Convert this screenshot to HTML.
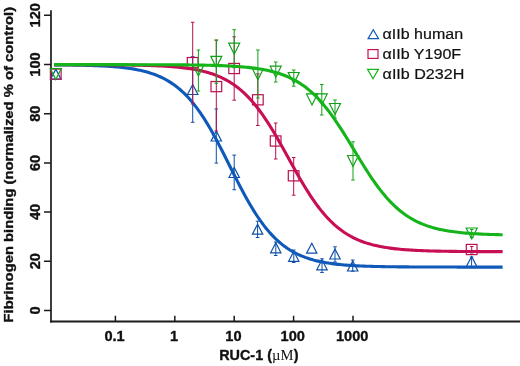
<!DOCTYPE html>
<html><head><meta charset="utf-8"><title>Figure</title>
<style>
html,body{margin:0;padding:0;background:#fff;}
svg{display:block;}
text{font-family:"Liberation Sans",Arial,Helvetica,sans-serif;fill:#111;}
.b{font-weight:bold;font-size:14.6px;stroke:#111;stroke-width:0.35px;stroke-linejoin:round;}
.s{font-family:"Liberation Serif","Times New Roman",serif;font-weight:normal;font-size:14.6px;letter-spacing:0.2px;stroke:none;}
.l{font-size:14px;stroke:#111;stroke-width:0.2px;}
</style></head><body>
<svg width="520" height="366" viewBox="0 0 520 366">
<rect width="520" height="366" fill="#fff"/>
<path d="M51,10.3V322.4" stroke="#1a1a1a" stroke-width="1.7" fill="none"/>
<path d="M50.15,321.4H520" stroke="#1a1a1a" stroke-width="2" fill="none"/>
<path d="M44,310.4H51M44,261.2H51M44,212.0H51M44,162.9H51M44,113.7H51M44,64.5H51M44,15.3H51M115.4,315.8V321.4M174.8,315.8V321.4M234.2,315.8V321.4M293.6,315.8V321.4M353.0,315.8V321.4" stroke="#1a1a1a" stroke-width="1.5" fill="none"/>
<path d="M55.8,69.1L61.0,79.1H50.6Z" stroke="#0e4fa8" stroke-width="1.2" fill="none" stroke-linejoin="miter"/>
<path d="M192.7,56.7V122.3M190.9,56.7h3.6M190.9,122.3h3.6" stroke="#0e4fa8" stroke-width="1" fill="none"/>
<path d="M192.7,84.5L197.9,94.5H187.5Z" stroke="#0e4fa8" stroke-width="1.2" fill="none" stroke-linejoin="miter"/>
<path d="M216.3,109.0V163.1M214.5,109.0h3.6M214.5,163.1h3.6" stroke="#0e4fa8" stroke-width="1" fill="none"/>
<path d="M216.3,131.0L221.5,141.0H211.1Z" stroke="#0e4fa8" stroke-width="1.2" fill="none" stroke-linejoin="miter"/>
<path d="M234.2,155.1V189.7M232.4,155.1h3.6M232.4,189.7h3.6" stroke="#0e4fa8" stroke-width="1" fill="none"/>
<path d="M234.2,167.5L239.4,177.5H229.0Z" stroke="#0e4fa8" stroke-width="1.2" fill="none" stroke-linejoin="miter"/>
<path d="M257.6,221.2V237.5M255.8,221.2h3.6M255.8,237.5h3.6" stroke="#0e4fa8" stroke-width="1" fill="none"/>
<path d="M257.6,224.2L262.8,234.2H252.4Z" stroke="#0e4fa8" stroke-width="1.2" fill="none" stroke-linejoin="miter"/>
<path d="M275.8,242.0V255.5M273.9,242.0h3.6M273.9,255.5h3.6" stroke="#0e4fa8" stroke-width="1" fill="none"/>
<path d="M275.8,242.8L280.9,252.8H270.6Z" stroke="#0e4fa8" stroke-width="1.2" fill="none" stroke-linejoin="miter"/>
<path d="M293.8,250.0V262.5M291.9,250.0h3.6M291.9,262.5h3.6" stroke="#0e4fa8" stroke-width="1" fill="none"/>
<path d="M293.8,251.3L298.9,261.3H288.6Z" stroke="#0e4fa8" stroke-width="1.2" fill="none" stroke-linejoin="miter"/>
<path d="M311.8,243.2L316.9,253.2H306.6Z" stroke="#0e4fa8" stroke-width="1.2" fill="none" stroke-linejoin="miter"/>
<path d="M322.0,258.8V272.5M320.2,258.8h3.6M320.2,272.5h3.6" stroke="#0e4fa8" stroke-width="1" fill="none"/>
<path d="M322.0,259.8L327.2,269.8H316.8Z" stroke="#0e4fa8" stroke-width="1.2" fill="none" stroke-linejoin="miter"/>
<path d="M335.0,246.8V262.0M333.2,246.8h3.6M333.2,262.0h3.6" stroke="#0e4fa8" stroke-width="1" fill="none"/>
<path d="M335.0,249.0L340.2,259.0H329.8Z" stroke="#0e4fa8" stroke-width="1.2" fill="none" stroke-linejoin="miter"/>
<path d="M352.7,260.0V271.2M350.9,260.0h3.6M350.9,271.2h3.6" stroke="#0e4fa8" stroke-width="1" fill="none"/>
<path d="M352.7,261.0L357.9,271.0H347.5Z" stroke="#0e4fa8" stroke-width="1.2" fill="none" stroke-linejoin="miter"/>
<path d="M471.6,257.0V266.5M469.8,257.0h3.6M469.8,266.5h3.6" stroke="#0e4fa8" stroke-width="1" fill="none"/>
<path d="M471.6,256.5L476.8,266.5H466.4Z" stroke="#0e4fa8" stroke-width="1.2" fill="none" stroke-linejoin="miter"/>
<path d="M54.0,64.84 L56.0,64.86 L58.0,64.88 L60.0,64.90 L62.0,64.92 L64.0,64.94 L66.0,64.96 L68.0,64.99 L70.0,65.02 L72.0,65.05 L74.0,65.08 L76.0,65.11 L78.0,65.15 L80.0,65.19 L82.0,65.24 L84.0,65.29 L86.0,65.34 L88.0,65.39 L90.0,65.45 L92.0,65.52 L94.0,65.59 L96.0,65.67 L98.0,65.75 L100.0,65.84 L102.0,65.94 L104.0,66.05 L106.0,66.16 L108.0,66.28 L110.0,66.42 L112.0,66.56 L114.0,66.72 L116.0,66.88 L118.0,67.07 L120.0,67.26 L122.0,67.47 L124.0,67.70 L126.0,67.95 L128.0,68.22 L130.0,68.50 L132.0,68.81 L134.0,69.15 L136.0,69.51 L138.0,69.90 L140.0,70.32 L142.0,70.77 L144.0,71.26 L146.0,71.79 L148.0,72.35 L150.0,72.96 L152.0,73.61 L154.0,74.31 L156.0,75.07 L158.0,75.88 L160.0,76.75 L162.0,77.68 L164.0,78.68 L166.0,79.74 L168.0,80.89 L170.0,82.11 L172.0,83.41 L174.0,84.80 L176.0,86.28 L178.0,87.86 L180.0,89.53 L182.0,91.31 L184.0,93.20 L186.0,95.19 L188.0,97.30 L190.0,99.52 L192.0,101.87 L194.0,104.33 L196.0,106.91 L198.0,109.62 L200.0,112.44 L202.0,115.39 L204.0,118.46 L206.0,121.64 L208.0,124.93 L210.0,128.33 L212.0,131.83 L214.0,135.43 L216.0,139.11 L218.0,142.87 L220.0,146.70 L222.0,150.58 L224.0,154.52 L226.0,158.48 L228.0,162.47 L230.0,166.48 L232.0,170.47 L234.0,174.46 L236.0,178.42 L238.0,182.34 L240.0,186.21 L242.0,190.02 L244.0,193.75 L246.0,197.41 L248.0,200.98 L250.0,204.45 L252.0,207.82 L254.0,211.08 L256.0,214.23 L258.0,217.26 L260.0,220.17 L262.0,222.96 L264.0,225.63 L266.0,228.17 L268.0,230.60 L270.0,232.91 L272.0,235.09 L274.0,237.17 L276.0,239.13 L278.0,240.98 L280.0,242.73 L282.0,244.37 L284.0,245.92 L286.0,247.37 L288.0,248.74 L290.0,250.02 L292.0,251.21 L294.0,252.33 L296.0,253.38 L298.0,254.36 L300.0,255.27 L302.0,256.12 L304.0,256.91 L306.0,257.65 L308.0,258.34 L310.0,258.98 L312.0,259.57 L314.0,260.13 L316.0,260.64 L318.0,261.12 L320.0,261.56 L322.0,261.97 L324.0,262.35 L326.0,262.70 L328.0,263.03 L330.0,263.33 L332.0,263.62 L334.0,263.88 L336.0,264.12 L338.0,264.34 L340.0,264.55 L342.0,264.74 L344.0,264.92 L346.0,265.08 L348.0,265.23 L350.0,265.37 L352.0,265.50 L354.0,265.63 L356.0,265.74 L358.0,265.84 L360.0,265.93 L362.0,266.02 L364.0,266.10 L366.0,266.18 L368.0,266.25 L370.0,266.31 L372.0,266.37 L374.0,266.43 L376.0,266.48 L378.0,266.53 L380.0,266.57 L382.0,266.61 L384.0,266.65 L386.0,266.68 L388.0,266.71 L390.0,266.74 L392.0,266.77 L394.0,266.79 L396.0,266.82 L398.0,266.84 L400.0,266.86 L402.0,266.88 L404.0,266.89 L406.0,266.91 L408.0,266.92 L410.0,266.94 L412.0,266.95 L414.0,266.96 L416.0,266.97 L418.0,266.98 L420.0,266.99 L422.0,267.00 L424.0,267.01 L426.0,267.01 L428.0,267.02 L430.0,267.03 L432.0,267.03 L434.0,267.04 L436.0,267.04 L438.0,267.05 L440.0,267.05 L442.0,267.05 L444.0,267.06 L446.0,267.06 L448.0,267.06 L450.0,267.07 L452.0,267.07 L454.0,267.07 L456.0,267.07 L458.0,267.08 L460.0,267.08 L462.0,267.08 L464.0,267.08 L466.0,267.08 L468.0,267.08 L470.0,267.08 L472.0,267.09 L474.0,267.09 L476.0,267.09 L478.0,267.09 L480.0,267.09 L482.0,267.09 L484.0,267.09 L486.0,267.09 L488.0,267.09 L490.0,267.09 L492.0,267.09 L494.0,267.09 L496.0,267.09 L498.0,267.09 L500.0,267.10 L502.0,267.10 L502.6,267.10" stroke="#0f5ab9" stroke-width="3.1" fill="none" stroke-linecap="butt" stroke-linejoin="round"/>
<rect x="50.4" y="69.0" width="10.7" height="10.2" stroke="#b80f50" stroke-width="1.2" fill="none"/>
<path d="M192.7,22.3V104.0M190.9,22.3h3.6M190.9,104.0h3.6" stroke="#b80f50" stroke-width="1" fill="none"/>
<rect x="187.3" y="57.5" width="10.7" height="10.2" stroke="#b80f50" stroke-width="1.2" fill="none"/>
<path d="M216.3,40.2V131.0M214.5,40.2h3.6M214.5,131.0h3.6" stroke="#b80f50" stroke-width="1" fill="none"/>
<rect x="211.0" y="81.5" width="10.7" height="10.2" stroke="#b80f50" stroke-width="1.2" fill="none"/>
<path d="M234.2,36.8V100.2M232.4,36.8h3.6M232.4,100.2h3.6" stroke="#b80f50" stroke-width="1" fill="none"/>
<rect x="228.8" y="63.4" width="10.7" height="10.2" stroke="#b80f50" stroke-width="1.2" fill="none"/>
<path d="M257.8,73.9V125.5M256.0,73.9h3.6M256.0,125.5h3.6" stroke="#b80f50" stroke-width="1" fill="none"/>
<rect x="252.5" y="94.7" width="10.7" height="10.2" stroke="#b80f50" stroke-width="1.2" fill="none"/>
<path d="M275.7,123.0V159.0M273.9,123.0h3.6M273.9,159.0h3.6" stroke="#b80f50" stroke-width="1" fill="none"/>
<rect x="270.3" y="135.9" width="10.7" height="10.2" stroke="#b80f50" stroke-width="1.2" fill="none"/>
<path d="M293.7,157.5V195.2M291.9,157.5h3.6M291.9,195.2h3.6" stroke="#b80f50" stroke-width="1" fill="none"/>
<rect x="288.3" y="170.7" width="10.7" height="10.2" stroke="#b80f50" stroke-width="1.2" fill="none"/>
<path d="M471.7,246.5V253.0M469.9,246.5h3.6M469.9,253.0h3.6" stroke="#b80f50" stroke-width="1" fill="none"/>
<rect x="466.3" y="244.4" width="10.7" height="10.2" stroke="#b80f50" stroke-width="1.2" fill="none"/>
<path d="M54.0,64.67 L56.0,64.67 L58.0,64.67 L60.0,64.68 L62.0,64.68 L64.0,64.68 L66.0,64.68 L68.0,64.69 L70.0,64.69 L72.0,64.69 L74.0,64.70 L76.0,64.70 L78.0,64.70 L80.0,64.71 L82.0,64.71 L84.0,64.72 L86.0,64.72 L88.0,64.73 L90.0,64.74 L92.0,64.74 L94.0,64.75 L96.0,64.76 L98.0,64.77 L100.0,64.78 L102.0,64.79 L104.0,64.80 L106.0,64.81 L108.0,64.82 L110.0,64.83 L112.0,64.85 L114.0,64.87 L116.0,64.88 L118.0,64.90 L120.0,64.92 L122.0,64.94 L124.0,64.97 L126.0,64.99 L128.0,65.02 L130.0,65.05 L132.0,65.08 L134.0,65.12 L136.0,65.16 L138.0,65.20 L140.0,65.24 L142.0,65.29 L144.0,65.34 L146.0,65.39 L148.0,65.45 L150.0,65.52 L152.0,65.59 L154.0,65.66 L156.0,65.74 L158.0,65.83 L160.0,65.93 L162.0,66.03 L164.0,66.14 L166.0,66.26 L168.0,66.38 L170.0,66.52 L172.0,66.67 L174.0,66.83 L176.0,67.01 L178.0,67.20 L180.0,67.40 L182.0,67.62 L184.0,67.85 L186.0,68.10 L188.0,68.38 L190.0,68.67 L192.0,68.99 L194.0,69.33 L196.0,69.69 L198.0,70.09 L200.0,70.51 L202.0,70.97 L204.0,71.46 L206.0,71.99 L208.0,72.56 L210.0,73.16 L212.0,73.82 L214.0,74.52 L216.0,75.27 L218.0,76.07 L220.0,76.93 L222.0,77.85 L224.0,78.84 L226.0,79.89 L228.0,81.01 L230.0,82.20 L232.0,83.47 L234.0,84.83 L236.0,86.27 L238.0,87.79 L240.0,89.41 L242.0,91.13 L244.0,92.94 L246.0,94.85 L248.0,96.86 L250.0,98.98 L252.0,101.21 L254.0,103.55 L256.0,105.99 L258.0,108.54 L260.0,111.20 L262.0,113.96 L264.0,116.83 L266.0,119.79 L268.0,122.85 L270.0,126.01 L272.0,129.24 L274.0,132.56 L276.0,135.95 L278.0,139.40 L280.0,142.90 L282.0,146.45 L284.0,150.04 L286.0,153.65 L288.0,157.27 L290.0,160.89 L292.0,164.51 L294.0,168.11 L296.0,171.68 L298.0,175.20 L300.0,178.68 L302.0,182.10 L304.0,185.46 L306.0,188.73 L308.0,191.93 L310.0,195.04 L312.0,198.05 L314.0,200.97 L316.0,203.78 L318.0,206.50 L320.0,209.10 L322.0,211.60 L324.0,213.98 L326.0,216.27 L328.0,218.44 L330.0,220.51 L332.0,222.47 L334.0,224.33 L336.0,226.09 L338.0,227.76 L340.0,229.33 L342.0,230.81 L344.0,232.21 L346.0,233.52 L348.0,234.76 L350.0,235.91 L352.0,237.00 L354.0,238.01 L356.0,238.97 L358.0,239.86 L360.0,240.69 L362.0,241.46 L364.0,242.19 L366.0,242.86 L368.0,243.49 L370.0,244.08 L372.0,244.63 L374.0,245.14 L376.0,245.61 L378.0,246.05 L380.0,246.46 L382.0,246.84 L384.0,247.20 L386.0,247.52 L388.0,247.83 L390.0,248.11 L392.0,248.38 L394.0,248.62 L396.0,248.85 L398.0,249.06 L400.0,249.25 L402.0,249.43 L404.0,249.60 L406.0,249.75 L408.0,249.90 L410.0,250.03 L412.0,250.15 L414.0,250.27 L416.0,250.37 L418.0,250.47 L420.0,250.56 L422.0,250.65 L424.0,250.73 L426.0,250.80 L428.0,250.87 L430.0,250.93 L432.0,250.98 L434.0,251.04 L436.0,251.09 L438.0,251.13 L440.0,251.17 L442.0,251.21 L444.0,251.25 L446.0,251.28 L448.0,251.31 L450.0,251.34 L452.0,251.37 L454.0,251.39 L456.0,251.42 L458.0,251.44 L460.0,251.46 L462.0,251.48 L464.0,251.49 L466.0,251.51 L468.0,251.52 L470.0,251.54 L472.0,251.55 L474.0,251.56 L476.0,251.57 L478.0,251.58 L480.0,251.59 L482.0,251.60 L484.0,251.60 L486.0,251.61 L488.0,251.62 L490.0,251.62 L492.0,251.63 L494.0,251.64 L496.0,251.64 L498.0,251.64 L500.0,251.65 L502.0,251.65 L502.6,251.65" stroke="#c80f55" stroke-width="3.1" fill="none" stroke-linecap="butt" stroke-linejoin="round"/>
<path d="M55.8,79.6L61.3,68.6H50.3Z" stroke="#12a01a" stroke-width="1.2" fill="none" stroke-linejoin="miter"/>
<path d="M198.4,50.0V91.0M196.6,50.0h3.6M196.6,91.0h3.6" stroke="#12a01a" stroke-width="1" fill="none"/>
<path d="M198.4,76.0L203.9,65.0H192.9Z" stroke="#12a01a" stroke-width="1.2" fill="none" stroke-linejoin="miter"/>
<path d="M216.3,40.0V83.3M214.5,40.0h3.6M214.5,83.3h3.6" stroke="#12a01a" stroke-width="1" fill="none"/>
<path d="M216.3,67.3L221.8,56.3H210.8Z" stroke="#12a01a" stroke-width="1.2" fill="none" stroke-linejoin="miter"/>
<path d="M234.2,29.7V67.7M232.4,29.7h3.6M232.4,67.7h3.6" stroke="#12a01a" stroke-width="1" fill="none"/>
<path d="M234.2,54.2L239.7,43.2H228.7Z" stroke="#12a01a" stroke-width="1.2" fill="none" stroke-linejoin="miter"/>
<path d="M257.9,50.0V98.0M256.1,50.0h3.6M256.1,98.0h3.6" stroke="#12a01a" stroke-width="1" fill="none"/>
<path d="M257.9,79.7L263.4,68.7H252.4Z" stroke="#12a01a" stroke-width="1.2" fill="none" stroke-linejoin="miter"/>
<path d="M275.8,62.0V82.0M273.9,62.0h3.6M273.9,82.0h3.6" stroke="#12a01a" stroke-width="1" fill="none"/>
<path d="M275.8,77.2L281.2,66.2H270.2Z" stroke="#12a01a" stroke-width="1.2" fill="none" stroke-linejoin="miter"/>
<path d="M293.8,70.0V86.2M291.9,70.0h3.6M291.9,86.2h3.6" stroke="#12a01a" stroke-width="1" fill="none"/>
<path d="M293.8,83.5L299.2,72.5H288.2Z" stroke="#12a01a" stroke-width="1.2" fill="none" stroke-linejoin="miter"/>
<path d="M312.0,104.9L317.5,93.9H306.5Z" stroke="#12a01a" stroke-width="1.2" fill="none" stroke-linejoin="miter"/>
<path d="M321.8,84.5V115.0M319.9,84.5h3.6M319.9,115.0h3.6" stroke="#12a01a" stroke-width="1" fill="none"/>
<path d="M321.8,104.9L327.2,93.9H316.2Z" stroke="#12a01a" stroke-width="1.2" fill="none" stroke-linejoin="miter"/>
<path d="M335.0,100.0V118.0M333.2,100.0h3.6M333.2,118.0h3.6" stroke="#12a01a" stroke-width="1" fill="none"/>
<path d="M335.0,114.5L340.5,103.5H329.5Z" stroke="#12a01a" stroke-width="1.2" fill="none" stroke-linejoin="miter"/>
<path d="M353.0,141.8V180.0M351.2,141.8h3.6M351.2,180.0h3.6" stroke="#12a01a" stroke-width="1" fill="none"/>
<path d="M353.0,166.5L358.5,155.5H347.5Z" stroke="#12a01a" stroke-width="1.2" fill="none" stroke-linejoin="miter"/>
<path d="M471.7,229.5V237.5M469.9,229.5h3.6M469.9,237.5h3.6" stroke="#12a01a" stroke-width="1" fill="none"/>
<path d="M471.7,239.0L477.2,228.0H466.2Z" stroke="#12a01a" stroke-width="1.2" fill="none" stroke-linejoin="miter"/>
<path d="M54.0,64.65 L56.0,64.65 L58.0,64.65 L60.0,64.65 L62.0,64.65 L64.0,64.65 L66.0,64.65 L68.0,64.65 L70.0,64.65 L72.0,64.65 L74.0,64.65 L76.0,64.65 L78.0,64.65 L80.0,64.65 L82.0,64.65 L84.0,64.65 L86.0,64.66 L88.0,64.66 L90.0,64.66 L92.0,64.66 L94.0,64.66 L96.0,64.66 L98.0,64.66 L100.0,64.66 L102.0,64.66 L104.0,64.66 L106.0,64.66 L108.0,64.66 L110.0,64.66 L112.0,64.66 L114.0,64.67 L116.0,64.67 L118.0,64.67 L120.0,64.67 L122.0,64.67 L124.0,64.67 L126.0,64.67 L128.0,64.68 L130.0,64.68 L132.0,64.68 L134.0,64.68 L136.0,64.69 L138.0,64.69 L140.0,64.69 L142.0,64.70 L144.0,64.70 L146.0,64.70 L148.0,64.71 L150.0,64.71 L152.0,64.72 L154.0,64.72 L156.0,64.73 L158.0,64.74 L160.0,64.74 L162.0,64.75 L164.0,64.76 L166.0,64.77 L168.0,64.78 L170.0,64.79 L172.0,64.80 L174.0,64.81 L176.0,64.82 L178.0,64.84 L180.0,64.85 L182.0,64.87 L184.0,64.88 L186.0,64.90 L188.0,64.92 L190.0,64.94 L192.0,64.97 L194.0,64.99 L196.0,65.02 L198.0,65.05 L200.0,65.08 L202.0,65.12 L204.0,65.16 L206.0,65.20 L208.0,65.24 L210.0,65.29 L212.0,65.34 L214.0,65.40 L216.0,65.46 L218.0,65.52 L220.0,65.59 L222.0,65.66 L224.0,65.75 L226.0,65.83 L228.0,65.93 L230.0,66.03 L232.0,66.14 L234.0,66.26 L236.0,66.39 L238.0,66.53 L240.0,66.68 L242.0,66.84 L244.0,67.01 L246.0,67.20 L248.0,67.40 L250.0,67.62 L252.0,67.86 L254.0,68.11 L256.0,68.38 L258.0,68.67 L260.0,68.99 L262.0,69.33 L264.0,69.70 L266.0,70.09 L268.0,70.51 L270.0,70.97 L272.0,71.46 L274.0,71.98 L276.0,72.55 L278.0,73.15 L280.0,73.80 L282.0,74.50 L284.0,75.24 L286.0,76.04 L288.0,76.89 L290.0,77.80 L292.0,78.77 L294.0,79.81 L296.0,80.92 L298.0,82.09 L300.0,83.35 L302.0,84.68 L304.0,86.09 L306.0,87.59 L308.0,89.17 L310.0,90.84 L312.0,92.61 L314.0,94.47 L316.0,96.42 L318.0,98.48 L320.0,100.63 L322.0,102.88 L324.0,105.23 L326.0,107.67 L328.0,110.22 L330.0,112.85 L332.0,115.58 L334.0,118.39 L336.0,121.29 L338.0,124.26 L340.0,127.30 L342.0,130.40 L344.0,133.56 L346.0,136.77 L348.0,140.02 L350.0,143.29 L352.0,146.59 L354.0,149.89 L356.0,153.20 L358.0,156.49 L360.0,159.77 L362.0,163.02 L364.0,166.23 L366.0,169.39 L368.0,172.50 L370.0,175.54 L372.0,178.52 L374.0,181.42 L376.0,184.23 L378.0,186.96 L380.0,189.60 L382.0,192.15 L384.0,194.60 L386.0,196.96 L388.0,199.21 L390.0,201.37 L392.0,203.43 L394.0,205.39 L396.0,207.25 L398.0,209.02 L400.0,210.70 L402.0,212.29 L404.0,213.79 L406.0,215.20 L408.0,216.54 L410.0,217.79 L412.0,218.98 L414.0,220.08 L416.0,221.13 L418.0,222.10 L420.0,223.01 L422.0,223.87 L424.0,224.67 L426.0,225.42 L428.0,226.11 L430.0,226.76 L432.0,227.37 L434.0,227.94 L436.0,228.47 L438.0,228.96 L440.0,229.41 L442.0,229.84 L444.0,230.23 L446.0,230.60 L448.0,230.94 L450.0,231.26 L452.0,231.55 L454.0,231.83 L456.0,232.08 L458.0,232.32 L460.0,232.54 L462.0,232.74 L464.0,232.93 L466.0,233.10 L468.0,233.27 L470.0,233.42 L472.0,233.55 L474.0,233.68 L476.0,233.80 L478.0,233.91 L480.0,234.02 L482.0,234.11 L484.0,234.20 L486.0,234.28 L488.0,234.36 L490.0,234.43 L492.0,234.49 L494.0,234.55 L496.0,234.61 L498.0,234.66 L500.0,234.71 L502.0,234.75 L502.6,234.76" stroke="#14b41a" stroke-width="3.1" fill="none" stroke-linecap="butt" stroke-linejoin="round"/>
<g opacity="0.999">
<text transform="translate(39.6,310.4) rotate(-90)" text-anchor="middle" class="b">0</text>
<text transform="translate(39.6,261.2) rotate(-90)" text-anchor="middle" class="b">20</text>
<text transform="translate(39.6,212.0) rotate(-90)" text-anchor="middle" class="b">40</text>
<text transform="translate(39.6,162.9) rotate(-90)" text-anchor="middle" class="b">60</text>
<text transform="translate(39.6,113.7) rotate(-90)" text-anchor="middle" class="b">80</text>
<text transform="translate(39.6,64.5) rotate(-90)" text-anchor="middle" class="b">100</text>
<text transform="translate(39.6,15.3) rotate(-90)" text-anchor="middle" class="b">120</text>
<text x="114.6" y="340.9" text-anchor="middle" class="b">0.1</text>
<text x="174.0" y="340.9" text-anchor="middle" class="b">1</text>
<text x="233.4" y="340.9" text-anchor="middle" class="b">10</text>
<text x="292.8" y="340.9" text-anchor="middle" class="b">100</text>
<text x="352.2" y="340.9" text-anchor="middle" class="b">1000</text>
<text transform="translate(13.2,322.5) rotate(-90)" class="b" style="font-size:13.7px" textLength="315.6" lengthAdjust="spacingAndGlyphs">Fibrinogen binding (normalized % of control)</text>
<text x="219.2" y="359.7" class="b" style="font-size:14.4px">RUC-1 (<tspan class="s">µM</tspan>)</text>
<path d="M373.3,29.7L378.5,38.7H368.1Z" stroke="#0f5ab9" stroke-width="1.2" fill="none" stroke-linejoin="miter"/>
<rect x="368.0" y="49.6" width="10.0" height="8.8" stroke="#c80f55" stroke-width="1.2" fill="none"/>
<path d="M373.0,78.8L378.4,69.4H367.6Z" stroke="#14b41a" stroke-width="1.2" fill="none" stroke-linejoin="miter"/>
<text x="382.6" y="39.2" class="l" textLength="80.5" lengthAdjust="spacingAndGlyphs">αIIb human</text>
<text x="382.6" y="58.8" class="l" textLength="78.5" lengthAdjust="spacingAndGlyphs">αIIb Y190F</text>
<text x="382.6" y="78.5" class="l" textLength="81.7" lengthAdjust="spacingAndGlyphs">αIIb D232H</text>
</g>
</svg>
</body></html>
